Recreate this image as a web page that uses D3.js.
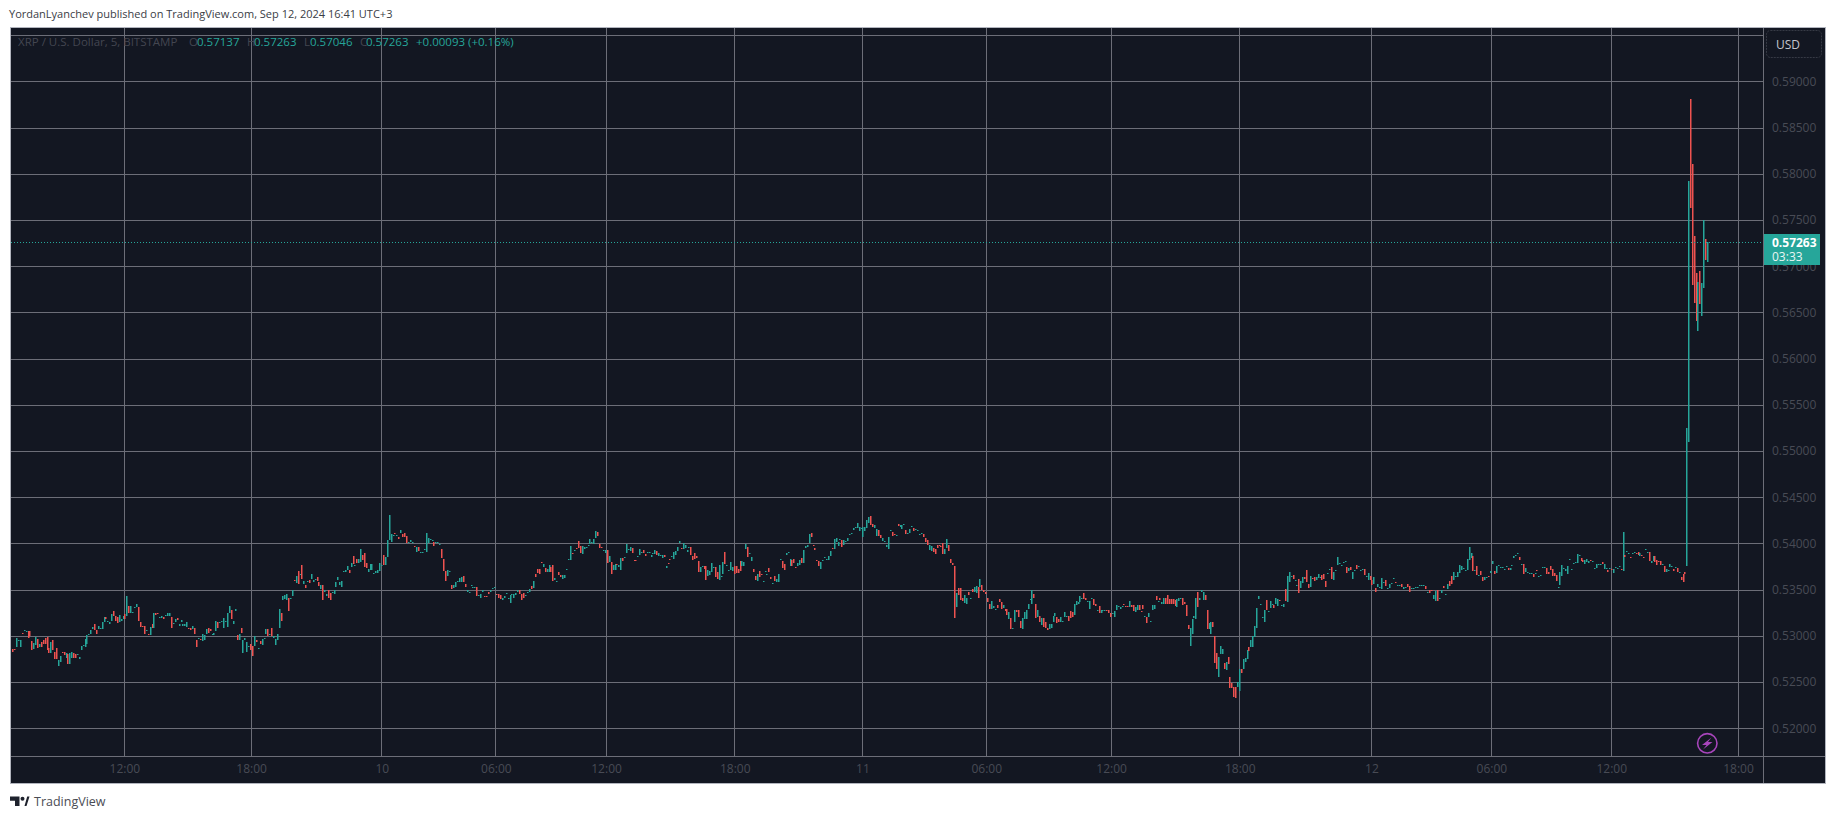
<!DOCTYPE html>
<html>
<head>
<meta charset="utf-8">
<style>
  body { margin: 0; background: #fff; }
  svg { display: block; }
  text { font-family: "Open Sans", sans-serif; }
  .axis path, .axis line { display: none; }
</style>
</head>
<body>
<svg width="1835" height="819"></svg>
<script src="https://cdn.jsdelivr.net/npm/d3@7"></script>
<script>
// prices are in 1/100000 USD, every bar is [open, close]
var seg0 = [[52860,52830],[52860,52850],[52880,52980],[52940,52950],[52880,52960],[53030,53020],[53050,53060],[53040,53050],[53050,52980],[53050,53000],[52940,52850],[52860,52920],[52900,52990],[52970,52870],[52880,52910],[52930,52880],[52950,52910],[52980,52910],[52990,52850],[52870,52820],[52810,52930],[52960,52850],[52830,52750],[52870,52750],[52670,52740],[52720,52780],[52830,52810],[52830,52790],[52765,52820],[52800,52700],[52700,52810],[52765,52830],[52820,52765],[52800,52765],[52790,52800],[52745,52775],[52850,52895],[52895,52905],[52885,52970],[52915,53005],[53005,53015],[53025,53060],[53070,53100],[53125,53060],[53060,53025],[53070,53110],[53070,53080],[53070,53155],[53155,53200],[53200,53180],[53145,53165],[53125,53155],[53165,53240],[53265,53220],[53220,53165],[53200,53135],[53155,53230],[53165,53180],[53180,53220],[53240,53180]];
var seg1 = [[53220,53430],[53320,53250],[53250,53320],[53245,53255],[53300,53310],[53310,53340],[53310,53165],[53145,53100],[53110,53100],[53110,53025],[53050,53060],[53015,53005],[53005,53100],[53125,53080],[53080,53250],[53250,53230],[53250,53245],[53190,53200],[53190,53210],[53200,53180],[53220,53230],[53210,53245],[53220,53245],[53200,53090],[53125,53135],[53145,53180],[53190,53170],[53110,53125],[53155,53170],[53110,53125],[53110,53125],[53100,53155],[53090,53080],[53090,53060],[53070,53110],[53080,53015],[52960,52885],[52970,52980],[52970,52950],[52940,53015],[52950,53005],[53025,53070],[53080,53035],[53070,53050],[53015,53025],[53005,53035],[53050,53165],[53145,53090],[53145,53155],[53155,53165],[53090,53190],[53155,53165],[53100,53245],[53245,53320],[53285,53180],[53125,53165],[53265,53295],[53005,52960],[52950,53025],[53080,53035],[52810,52950],[52960,52980],[52830,52930],[52885,52895],[52915,52850],[52895,52785]];
var seg2 = [[52895,52995],[52960,52930],[52860,52870],[52940,52915],[52905,52970],[52970,52980],[53025,53070],[53070,52995],[53005,53015],[53080,52995],[52980,52995],[52905,52970],[52960,53015],[53090,53295],[53245,53165],[53385,53430],[53395,53440],[53385,53450],[53405,53265],[53395,53405],[53430,53495],[53600,53590],[53570,53645],[53700,53560],[53655,53665],[53765,53610],[53560,53590],[53545,53515],[53580,53590],[53600,53570],[53620,53665],[53580,53600],[53600,53610],[53635,53590],[53580,53535],[53505,53545],[53545,53385],[53470,53495],[53430,53450],[53495,53405],[53460,53385],[53470,53480],[53450,53495],[53525,53580],[53600,53635],[53545,53580],[53525,53590],[53690,53700],[53690,53710],[53710,53755],[53710,53680],[53740,53785],[53860,53775],[53755,53765],[53830,53785],[53785,53830],[53795,53940],[53875,53820],[53895,53740],[53785,53730],[53690,53720],[53710,53775],[53710,53775],[53665,53680],[53680,53700],[53680,53710],[53700,53785],[53755,53765]];
var seg3 = [[53875,53765],[53765,53850],[53850,54035],[54035,54305],[54015,54100],[54080,54090],[54110,54100],[54080,54090],[54070,54050],[54110,54145],[54100,54070],[54110,54070],[54080,54005],[54005,54015],[54015,54035],[54005,54015],[53970,53960],[53905,53960],[53960,53915],[53895,53905],[53895,53905],[53925,53940],[53905,54110],[54005,54055],[54035,54045],[54025,54035],[54015,53970],[54005,54015],[54005,54015],[53980,53990],[53940,53840],[53830,53700],[53700,53590],[53645,53710],[53690,53700],[53545,53505],[53515,53545],[53525,53580],[53580,53590],[53580,53625],[53580,53635],[53645,53580],[53560,53525],[53480,53495],[53470,53480],[53535,53545],[53515,53525],[53515,53525],[53525,53430],[53430,53440],[53405,53450],[53480,53495],[53430,53420],[53430,53420],[53480,53450],[53480,53495],[53505,53515],[53515,53525]];
var seg4 = [[53450,53440],[53450,53415],[53440,53395],[53385,53415],[53415,53430],[53450,53460],[53405,53415],[53360,53440],[53440,53450],[53415,53450],[53440,53460],[53480,53495],[53495,53450],[53450,53385],[53460,53415],[53430,53440],[53460,53470],[53470,53505],[53535,53505],[53515,53590],[53665,53635],[53720,53680],[53720,53665],[53795,53785],[53745,53775],[53730,53690],[53690,53720],[53690,53765],[53740,53690],[53765,53590],[53600,53625],[53580,53590],[53690,53655],[53655,53635],[53610,53655],[53625,53655],[53710,53720],[53820,53830],[53820,53970],[53895,53885],[53915,53925],[53950,53940],[54025,53950],[53970,53895],[53885,53970],[53940,53960],[53950,53960],[53970,53980],[53990,54045],[54005,54015],[53990,54045],[54055,54135],[54120,54080],[53990,53950],[53960,53950],[53915,53925],[53895,53925]];
var seg5 = [[53925,53785],[53795,53860],[53795,53665],[53710,53765],[53710,53775],[53775,53765],[53745,53765],[53710,53840],[53840,53810],[53840,53850],[53895,53990],[53925,53940],[53915,53960],[53950,53895],[53820,53810],[53820,53810],[53850,53860],[53875,53940],[53895,53905],[53925,53895],[53885,53860],[53895,53905],[53895,53905],[53850,53875],[53885,53895],[53885,53925],[53915,53875],[53860,53895],[53860,53875],[53840,53875],[53875,53850],[53730,53755],[53785,53775],[53830,53820],[53850,53860],[53830,53905],[53875,53915],[53915,53960],[54005,54025],[53950,53940],[53940,54005],[53950,53980],[53905,53925],[53950,53960],[53960,53875],[53860,53820],[53895,53830],[53860,53840],[53805,53690],[53690,53745],[53745,53755],[53755,53720],[53755,53600],[53645,53710],[53655,53700],[53690,53785],[53730,53745],[53745,53635],[53690,53610],[53600,53765],[53635,53645],[53665,53795],[53905,53775],[53755,53765],[53700,53710],[53710,53795],[53700,53745],[53755,53665]];
var seg6 = [[53755,53680],[53720,53680],[53805,53700],[53755,53805],[53755,53795],[53940,53990],[53960,53850],[53885,53895],[53810,53850],[53720,53690],[53645,53600],[53590,53665],[53700,53635],[53665,53655],[53580,53590],[53690,53700],[53655,53665],[53730,53690],[53635,53610],[53560,53570],[53645,53590],[53580,53610],[53580,53665],[53820,53830],[53810,53730],[53775,53710],[53875,53895],[53895,53905],[53755,53830],[53820,53755],[53830,53785],[53745,53730],[53755,53785],[53765,53820],[53840,53785],[53785,53925],[53950,53970],[53960,53980],[54000,54100],[54110,54070],[53980,53970],[53950,53930],[53820,53810],[53810,53755],[53720,53795],[53810,53820],[53840,53850],[53820,53830],[53820,53860],[53860,53915],[53950,53940],[53940,54050],[54015,54060],[53970,54015],[54035,54050],[54035,53960],[53980,54035],[54015,54025],[54025,54060],[54090,54100],[54100,54110],[54145,54165],[54165,54175],[54165,54220],[54135,54175],[54155,54165]];
var seg7 = [[54070,54175],[54135,54175],[54165,54255],[54220,54285],[54295,54200],[54210,54175],[54165,54200],[54080,54155],[54145,54080],[54090,54060],[54025,54060],[54015,54025],[53960,53980],[53940,54070],[54135,54145],[54120,54080],[54100,54090],[54080,54090],[54210,54190],[54175,54200],[54155,54200],[54200,54210],[54145,54100],[54100,54110],[54110,54155],[54175,54190],[54165,54135],[54145,54155],[54135,54145],[54090,54100],[54100,54110],[54100,54070],[54060,54015],[54035,53980],[53930,53980],[53915,53970],[53950,53905],[53940,53885],[53980,53950],[53980,53970],[53970,53960],[54005,53885],[53885,53940],[53950,54045],[53980,53915],[53830,53785],[53785,53765],[53755,53190],[53310,53460],[53515,53440],[53515,53385],[53415,53375],[53360,53440],[53340,53415],[53470,53440],[53395,53405],[53505,53480],[53470,53525],[53460,53535],[53525,53415],[53525,53610],[53545,53495],[53495,53480],[53480,53450]];
var seg8 = [[53405,53365],[53350,53295],[53295,53375],[53305,53320],[53285,53295],[53330,53305],[53395,53365],[53365,53295],[53305,53330],[53295,53265],[53295,53230],[53180,53255],[53190,53070],[53080,53090],[53155,53275],[53285,53255],[53275,53200],[53165,53080],[53070,53190],[53180,53255],[53180,53275],[53295,53350],[53385,53395],[53350,53500],[53450,53405],[53340,53190],[53200,53275],[53210,53155],[53115,53190],[53190,53100],[53155,53080],[53090,53060],[53070,53125],[53090,53125],[53155,53220],[53220,53245],[53200,53135],[53180,53145],[53155,53200],[53155,53165],[53200,53255],[53210,53220],[53210,53165],[53265,53190],[53255,53200],[53230,53350],[53330,53375],[53340,53365],[53365,53430],[53405,53415],[53460,53395],[53415,53385],[53365,53375],[53295,53375],[53405,53415],[53395,53330],[53350,53320],[53265,53275],[53320,53245],[53245,53285],[53265,53275],[53265,53275],[53285,53275],[53275,53245],[53245,53200],[53235,53245]];
var seg9 = [[53200,53265],[53285,53330],[53310,53320],[53295,53310],[53310,53320],[53350,53340],[53320,53310],[53320,53310],[53310,53375],[53330,53310],[53330,53265],[53255,53310],[53275,53330],[53330,53275],[53265,53255],[53330,53295],[53200,53210],[53200,53135],[53200,53245],[53155,53165],[53275,53330],[53295,53330],[53430,53385],[53365,53375],[53415,53385],[53350,53365],[53340,53415],[53415,53340],[53440,53340],[53395,53340],[53395,53350],[53395,53340],[53385,53320],[53310,53395],[53375,53415],[53405,53415],[53415,53330],[53365,53340],[53330,53210],[53115,53070],[52895,53090],[53025,53180],[53190,53210],[53180,53405],[53470,53310],[53385,53415],[53480,53495],[53385,53480],[53440,53385],[53275,53070],[53070,53135],[53025,53155],[53145,53100],[53000,52710],[52820,52645],[52550,52775],[52800,52895],[52800,52855],[52710,52645],[52635,52720],[52775,52700],[52550,52440],[52485,52440],[52450,52340],[52450,52330],[52450,52505],[52405,52645]];
var seg10 = [[52645,52600],[52645,52755],[52720,52765],[52755,52850],[52875,52840],[52885,52950],[52875,52995],[52985,53105],[53090,53300],[53395,53430],[53330,53340],[53190,53200],[53155,53285],[53385,53285],[53255,53265],[53300,53375],[53340,53350],[53330,53300],[53350,53405],[53320,53395],[53385,53375],[53320,53330],[53310,53350],[53505,53375],[53365,53645],[53580,53690],[53635,53645],[53655,53610],[53590,53600],[53545,53555],[53610,53460],[53515,53590],[53570,53635],[53635,53610],[53710,53580],[53560,53515],[53525,53645],[53625,53610],[53635,53590],[53600,53635],[53625,53665],[53625,53635],[53655,53600],[53665,53610],[53590,53525],[53665,53680],[53710,53720],[53745,53610],[53600,53690],[53700,53710],[53765,53850],[53775,53785],[53755,53765],[53785,53795],[53795,53810],[53745,53680],[53700,53730],[53745,53710],[53610,53690],[53700,53710],[53765,53720],[53745,53755],[53700,53710],[53710,53720],[53720,53655],[53635,53645],[53600,53680],[53645,53600],[53600,53545]];
var seg11 = [[53560,53635],[53515,53480],[53525,53560],[53515,53525],[53505,53625],[53570,53580],[53600,53535],[53505,53515],[53515,53560],[53560,53570],[53610,53625],[53580,53570],[53545,53555],[53535,53545],[53560,53525],[53505,53525],[53515,53525],[53560,53525],[53535,53480],[53505,53515],[53505,53515],[53515,53525],[53515,53525],[53545,53555],[53535,53545],[53535,53545],[53535,53505],[53460,53470],[53495,53460],[53495,53485],[53395,53440],[53375,53485],[53495,53375],[53405,53415],[53460,53495],[53535,53515],[53440,53450],[53505,53560],[53590,53535],[53645,53560],[53600,53690],[53635,53645],[53635,53690],[53680,53765],[53710,53755],[53720,53730],[53700,53710],[53710,53830],[53820,53960],[53840,53895],[53865,53700],[53700,53710],[53755,53655],[53645,53655],[53700,53655],[53635,53590],[53600,53635],[53625,53635],[53645,53635],[53680,53700]];
var seg12 = [[53775,53810],[53700,53665],[53680,53755],[53755,53765],[53730,53745],[53730,53745],[53710,53720],[53745,53755],[53730,53710],[53710,53730],[53755,53765],[53840,53865],[53865,53875],[53885,53895],[53850,53820],[53765,53775],[53775,53665],[53690,53730],[53680,53690],[53665,53680],[53665,53680],[53665,53635],[53665,53680],[53710,53700],[53635,53645],[53645,53655],[53730,53745],[53730,53745],[53730,53665],[53690,53665],[53755,53710],[53720,53645],[53680,53645],[53655,53590],[53515,53525],[53545,53690],[53645,53765],[53720,53735],[53700,53720],[53665,53755],[53820,53830],[53710,53720],[53775,53785],[53785,53795],[53785,53885],[53865,53875],[53840,53805],[53820,53795],[53775,53820],[53795,53830],[53785,53810],[53820,53810],[53795,53810],[53720,53735],[53735,53775],[53765,53775],[53765,53775],[53795,53775],[53720,53775],[53720,53735],[53710,53690],[53720,53735],[53720,53710]];
var seg13 = [[53680,53720],[53735,53745],[53720,53735],[53745,53755],[53720,53710],[53700,54125],[53875,53850],[53905,53915],[53885,53895],[53850,53840],[53885,53895],[53895,53905],[53895,53885],[53905,53875],[53865,53895],[53875,53865],[53850,53840],[53925,53940],[53895,53905],[53905,53810],[53785,53810],[53810,53865],[53865,53795],[53820,53765],[53810,53795],[53810,53765],[53765,53775],[53755,53690],[53690,53720],[53700,53710],[53745,53775],[53745,53755],[53720,53700],[53735,53745],[53735,53690],[53680,53690],[53635,53600],[53665,53580],[53690,53665]];
var seg14 = [[53755,55250],[55100,57920],[58805,57625],[58100,56800],[57330,56600],[56930,56405],[56300,56830],[56950,56590],[56460,56820],[56765,57500],[57295,57070],[57050,57263]];

var segments = [seg0, seg1, seg2, seg3, seg4, seg5, seg6, seg7, seg8, seg9, seg10, seg11, seg12, seg13, seg14];
// bar position where each segment begins, the last entry closes seg14
var segmentStarts = [0, 58.5, 124, 190, 248, 305, 371, 436, 500, 565, 630, 698, 759, 821, 858.5, 869.8];

var timeTicks = [57.5, 122.5, 189.5, 248, 304.5, 370.5, 436, 499.5, 563.5, 629.5, 697, 758.5, 820, 885];
var timeLabels = ["12:00", "18:00", "10", "06:00", "12:00", "18:00", "11", "06:00", "12:00", "18:00", "12", "06:00", "12:00", "18:00"];
var priceGrid = [52000, 52500, 53000, 53500, 54000, 54500, 55000, 55500, 56000, 56500, 57000, 57500, 58000, 58500, 59000, 59500];
var priceLabels = [52000, 52500, 53000, 53500, 54000, 54500, 55000, 55500, 56000, 56500, 57000, 57500, 58000, 58500, 59000];
var lastPrice = 57263;

var bars = [];
segments.forEach(function(seg, s) {
  var step = (segmentStarts[s + 1] - segmentStarts[s]) / seg.length;
  seg.forEach(function(b, i) {
    bars.push({i: segmentStarts[s] + i * step, open: b[0], close: b[1]});
  });
});

var svg = d3.select("svg"),
    frameLeft = 10, frameRight = 1825, frameTop = 27, frameBottom = 783,
    paneRight = 1763, paneBottom = 756;

var upColor = "#26a69a", downColor = "#ef5350", gridColor = "#6c6e78", dimText = "#484b55";

var x = d3.scaleLinear().domain([0, 885]).range([12.3, 1738]);
var y = d3.scaleLinear().domain([52000, 59000]).range([728.3, 81.3]);

svg.append("rect")
    .attr("x", frameLeft + 0.5).attr("y", frameTop + 0.5)
    .attr("width", frameRight - frameLeft).attr("height", frameBottom - frameTop)
    .attr("fill", "#131722")
    .attr("stroke", "#b2b5be")
    .attr("shape-rendering", "crispEdges");

// grid
var grid = svg.append("g").attr("stroke", gridColor).attr("shape-rendering", "crispEdges");

grid.selectAll(".h")
    .data(priceGrid)
  .enter().append("line")
    .attr("x1", frameLeft + 1).attr("x2", paneRight)
    .attr("y1", function(d) { return Math.round(y(d)) + 0.5; })
    .attr("y2", function(d) { return Math.round(y(d)) + 0.5; });

grid.selectAll(".v")
    .data(timeTicks)
  .enter().append("line")
    .attr("y1", frameTop + 1).attr("y2", paneBottom)
    .attr("x1", function(d) { return Math.floor(x(d)) + 0.5; })
    .attr("x2", function(d) { return Math.floor(x(d)) + 0.5; });

grid.append("line").attr("x1", paneRight + 0.5).attr("x2", paneRight + 0.5).attr("y1", frameTop + 1).attr("y2", frameBottom);
grid.append("line").attr("x1", frameLeft + 1).attr("x2", frameRight).attr("y1", paneBottom + 0.5).attr("y2", paneBottom + 0.5);

// bars
svg.append("g")
  .selectAll("rect")
    .data(bars)
  .enter().append("rect")
    .attr("x", function(d) { return Math.round(x(d.i)); })
    .attr("width", 1.5)
    .attr("y", function(d) { return Math.round(y(Math.max(d.open, d.close))); })
    .attr("height", function(d) { return Math.max(1, Math.round(y(Math.min(d.open, d.close))) - Math.round(y(Math.max(d.open, d.close)))); })
    .attr("fill", function(d) { return d.close >= d.open ? upColor : downColor; });

// last price line
svg.append("line")
    .attr("x1", frameLeft + 1).attr("x2", paneRight)
    .attr("y1", Math.round(y(lastPrice)) + 0.5).attr("y2", Math.round(y(lastPrice)) + 0.5)
    .attr("stroke", upColor)
    .attr("stroke-dasharray", "1,2");

// axes
var priceAxis = svg.append("g")
    .attr("class", "axis")
    .attr("transform", "translate(" + (paneRight + 9) + ",0)")
    .call(d3.axisRight(y).tickValues(priceLabels).tickSize(0).tickPadding(0)
      .tickFormat(function(d) { return (d / 100000).toFixed(5); }));
priceAxis.selectAll("text").attr("fill", dimText).attr("font-size", 12).attr("font-family", "Open Sans");

var timeAxis = svg.append("g")
    .attr("class", "axis")
    .attr("transform", "translate(0," + (paneBottom + 8) + ")")
    .call(d3.axisBottom(x).tickValues(timeTicks).tickSize(0).tickPadding(0)
      .tickFormat(function(d, i) { return timeLabels[i]; }));
timeAxis.selectAll("text").attr("fill", dimText).attr("font-size", 12).attr("font-family", "Open Sans");

// last price tag
svg.append("rect")
    .attr("x", paneRight + 1).attr("y", 234).attr("width", 56).attr("height", 31)
    .attr("fill", upColor);
svg.append("text")
    .attr("x", paneRight + 9).attr("y", 247)
    .attr("fill", "#fff").attr("font-size", 12).attr("font-weight", "bold")
    .text((lastPrice / 100000).toFixed(5));
svg.append("text")
    .attr("x", paneRight + 9).attr("y", 261)
    .attr("fill", "#e8f5f3").attr("font-size", 12)
    .text("03:33");

// currency button
svg.append("rect")
    .attr("x", 1766.5).attr("y", 30.5).attr("width", 55).attr("height", 27).attr("rx", 4)
    .attr("fill", "none").attr("stroke", "#363a45").attr("stroke-dasharray", "2,1");
svg.append("text")
    .attr("x", 1776).attr("y", 49)
    .attr("fill", "#c3c6cf").attr("font-size", 12)
    .text("USD");

// legend
var legend = [
  {t: "XRP / U.S. Dollar, 5, BITSTAMP", x: 18, c: "#434651"},
  {t: "O", x: 189, c: "#434651"}, {t: "0.57137", x: 197, c: upColor},
  {t: "H", x: 247, c: "#434651"}, {t: "0.57263", x: 254, c: upColor},
  {t: "L", x: 304, c: "#434651"}, {t: "0.57046", x: 310, c: upColor},
  {t: "C", x: 360, c: "#434651"}, {t: "0.57263", x: 366, c: upColor},
  {t: "+0.00093 (+0.16%)", x: 416, c: upColor}
];
svg.append("g").selectAll("text")
    .data(legend)
  .enter().append("text")
    .attr("x", function(d) { return d.x; })
    .attr("y", 46)
    .attr("font-size", 11.5)
    .attr("fill", function(d) { return d.c; })
    .text(function(d) { return d.t; });

// header and footer
svg.append("text")
    .attr("x", 9).attr("y", 18)
    .attr("font-size", 11).attr("fill", "#3a3d45")
    .text("YordanLyanchev published on TradingView.com, Sep 12, 2024 16:41 UTC+3");

svg.append("path")
    .attr("d", "M10 796.5h9.5v9.5h-4.5v-5.2H10z M24.5 806 L27.2 796.5 H29.5 L26.5 806z")
    .attr("fill", "#1e222d");
svg.append("circle").attr("cx", 22.5).attr("cy", 798.8).attr("r", 2).attr("fill", "#1e222d");
svg.append("text")
    .attr("x", 34).attr("y", 806)
    .attr("font-size", 12.5).attr("fill", "#4a4c54")
    .text("TradingView");

// lightning icon
svg.append("circle")
    .attr("cx", 1707.3).attr("cy", 743.3).attr("r", 9.7)
    .attr("fill", "none").attr("stroke", "#a845bc").attr("stroke-width", 1.6);
svg.append("path")
    .attr("d", "M1711.5 737.5 L1702 745 H1706.5 L1703 749.5 L1712.5 742 H1708z")
    .attr("fill", "#a845bc");
</script>
</body>
</html>
